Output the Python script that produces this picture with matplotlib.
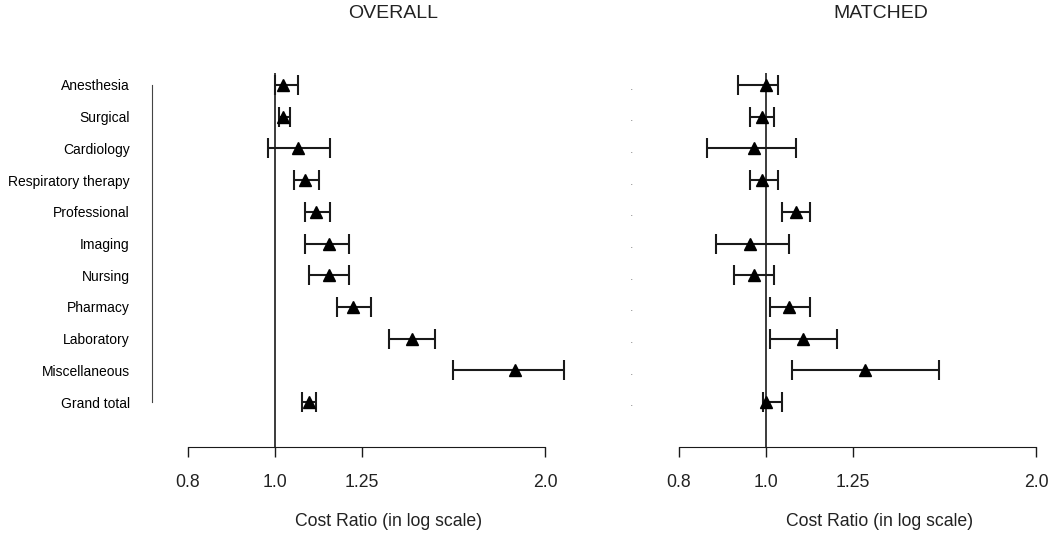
import numpy as np
import matplotlib
matplotlib.use("Agg")
import matplotlib.pyplot as plt
from matplotlib.ticker import NullLocator

plt.rcParams['font.family'] = ['Liberation Sans', 'DejaVu Sans']

# --- data (cost ratios) ---
categories = ["Anesthesia", "Surgical", "Cardiology", "Respiratory therapy",
              "Professional", "Imaging", "Nursing", "Pharmacy", "Laboratory",
              "Miscellaneous", "Grand total"]

overall_est = [1.021, 1.021, 1.061, 1.080, 1.111, 1.149, 1.149, 1.222, 1.421, 1.852, 1.091]
overall_lo = [1.000, 1.010, 0.982, 1.050, 1.080, 1.080, 1.091, 1.173, 1.340, 1.579, 1.072]
overall_hi = [1.061, 1.039, 1.152, 1.119, 1.152, 1.209, 1.209, 1.279, 1.508, 2.099, 1.111]

matched_est = [1.000, 0.990, 0.970, 0.990, 1.080, 0.960, 0.970, 1.061, 1.100, 1.289, 1.000]
matched_lo = [0.931, 0.960, 0.860, 0.960, 1.042, 0.880, 0.921, 1.010, 1.010, 1.069, 0.992]
matched_hi = [1.031, 1.021, 1.080, 1.031, 1.119, 1.061, 1.021, 1.119, 1.200, 1.559, 1.042]

x_ticks = [0.8, 1.0, 1.25, 2.0]
x_ticklabels = ["0.8", "1.0", "1.25", "2.0"]

W, H = 1050, 535
INK = "#1a1a1a"
TXT = "#222222"

fig = plt.figure(figsize=(W / 100, H / 100), dpi=100)

def draw_panel(ax, est, lo, hi):
    y = np.arange(len(est))
    est = np.array(est)
    err = [est - np.array(lo), np.array(hi) - est]
    ax.axvline(1.0, color=INK, lw=1.2, zorder=1)
    eb = ax.errorbar(est, y, xerr=err, fmt='^', color='black', ms=9,
                     ecolor=INK, elinewidth=1.5, capsize=7, capthick=1.5, zorder=3)
    # the widest interval runs past 2.0, so let it spill over the frame
    for art in eb.get_children():
        art.set_clip_on(False)
    ax.set_xscale('log')
    ax.set_xlim(0.8, 2.0)
    ax.set_ylim(10 + 45 / 31.7, -12 / 31.7)
    ax.xaxis.set_minor_locator(NullLocator())
    ax.set_xticks(x_ticks)
    ax.set_xticklabels(x_ticklabels, fontsize=12.7, color=TXT)
    ax.tick_params(axis='x', direction='out', length=7.2, width=1.0,
                   color=INK, pad=12)
    ax.spines['top'].set_visible(False)
    ax.spines['right'].set_visible(False)
    ax.spines['bottom'].set_bounds(0.8, 2.0)
    ax.spines['bottom'].set_color(INK)
    ax.set_yticks(y)
    ax.tick_params(axis='y', length=0)
    ax.patch.set_visible(False)

# left panel: OVERALL
ax1 = fig.add_axes([188 / W, (H - 447) / H, (545 - 188) / W, (447 - 73) / H])
draw_panel(ax1, overall_est, overall_lo, overall_hi)
ax1.set_yticklabels(categories, fontsize=10.5, color=TXT)
ax1.tick_params(axis='y', pad=16)
ax1.spines['left'].set_position(('outward', 26))
ax1.spines['left'].set_bounds(0, len(categories) - 1)
ax1.spines['left'].set_color("#444444")

# right panel: MATCHED
ax2 = fig.add_axes([679 / W, (H - 447) / H, (545 - 188) / W, (447 - 73) / H])
draw_panel(ax2, matched_est, matched_lo, matched_hi)
ax2.set_yticklabels(["."] * len(categories), fontsize=9, color="#888888")
ax2.spines['left'].set_visible(False)
ax2.tick_params(axis='y', pad=33)

# titles and axis labels
fig.text(393 / W, 1 - 14 / H, "OVERALL", ha='center', va='center', fontsize=14, color=TXT)
fig.text(881 / W, 1 - 14 / H, "MATCHED", ha='center', va='center', fontsize=14, color=TXT)
fig.text(389 / W, 1 - 521 / H, "Cost Ratio (in log scale)", ha='center', va='center',
         fontsize=12.7, color=TXT)
fig.text(880 / W, 1 - 521 / H, "Cost Ratio (in log scale)", ha='center', va='center',
         fontsize=12.7, color=TXT)

fig.savefig("out.png", dpi=100, facecolor='white')
